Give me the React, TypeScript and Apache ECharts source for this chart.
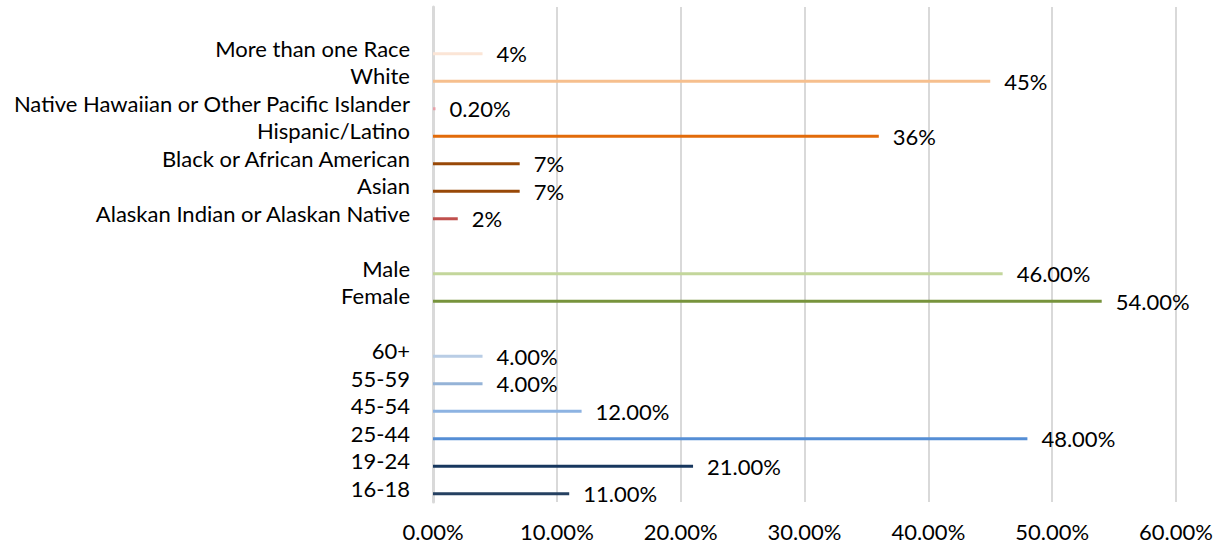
import React, { useEffect, useRef } from "react";
import * as echarts from "echarts";

const categories = [
  "",
  "More than one Race",
  "White",
  "Native Hawaiian or Other Pacific Islander",
  "Hispanic/Latino",
  "Black or African American",
  "Asian",
  "Alaskan Indian or Alaskan Native",
  "",
  "Male",
  "Female",
  "",
  "60+",
  "55-59",
  "45-54",
  "25-44",
  "19-24",
  "16-18",
];

const values: (number | null)[] = [
  null, 4, 45, 0.2, 36, 7, 7, 2, null, 46, 54, null, 4, 4, 12, 48, 21, 11,
];

const valueLabels = [
  "", "4%", "45%", "0.20%", "36%", "7%", "7%", "2%", "", "46.00%", "54.00%", "",
  "4.00%", "4.00%", "12.00%", "48.00%", "21.00%", "11.00%",
];

const barColors = [
  "#ffffff", "#FBE5D6", "#F6BF8E", "#E8A0A8", "#E26B0A", "#984807", "#984807", "#C0504D",
  "#ffffff", "#C3D69B", "#77933C", "#ffffff",
  "#B9CDE5", "#95B3D7", "#8DB3E2", "#558ED5", "#17375E", "#254061",
];

const xTicks = { min: 0, max: 60, interval: 10 };

const FONT = "Lato, 'Noto Sans', sans-serif";

export default function App() {
  const ref = useRef<HTMLDivElement>(null);
  useEffect(() => {
    document.body.style.margin = "0";
    if (!ref.current) return;
    const chart = echarts.init(ref.current, undefined, { renderer: "svg" });
    chart.setOption({
      animation: false,
      backgroundColor: "#ffffff",
      grid: { left: 433, right: 44, top: 7, bottom: 44, containLabel: false },
      xAxis: {
        type: "value",
        min: xTicks.min,
        max: xTicks.max,
        interval: xTicks.interval,
        axisLine: { show: false },
        axisTick: { show: false },
        splitLine: { show: true, lineStyle: { color: "#d9d9d9", width: 2 } },
        axisLabel: {
          color: "#000",
          fontFamily: FONT,
          fontSize: 22,
          margin: 18,
          formatter: (v: number) => v.toFixed(2) + "%",
        },
      },
      yAxis: {
        type: "category",
        inverse: true,
        data: categories,
        axisLine: { show: true, lineStyle: { color: "#d9d9d9", width: 3 } },
        axisTick: { show: false },
        splitLine: { show: false },
        axisLabel: {
          color: "#000",
          fontFamily: FONT,
          fontSize: 22,
          margin: 23,
          interval: 0,
          padding: [0, 0, 4, 0],
        },
      },
      series: [
        {
          type: "bar",
          name: "spacer",
          barWidth: 3,
          barGap: "267%",
          data: values.map(() => null),
          silent: true,
        },
        {
          type: "bar",
          name: "value",
          barWidth: 3,
          barGap: "267%",
          data: values.map((v, i) => ({
            value: v,
            itemStyle: { color: barColors[i] },
            label: { formatter: valueLabels[i] },
          })),
          label: {
            show: true,
            position: "right",
            distance: 14,
            color: "#000",
            fontFamily: FONT,
            fontSize: 22,
          },
        },
      ],
    });
    return () => chart.dispose();
  }, []);
  return <div ref={ref} style={{ width: 1220, height: 546 }} />;
}
